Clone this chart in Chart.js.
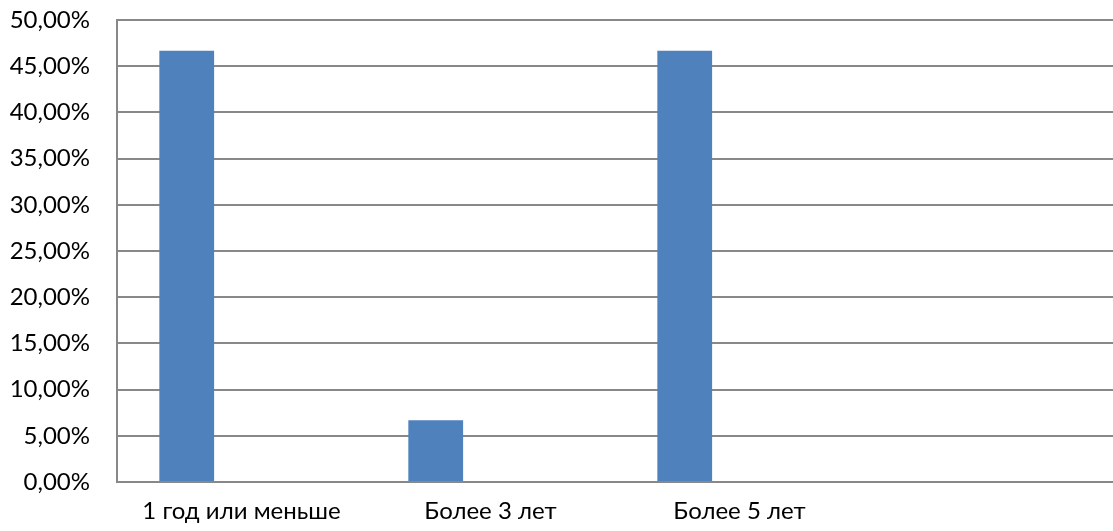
<!DOCTYPE html>
<html>
<head>
<meta charset="utf-8">
<script src="https://cdn.jsdelivr.net/npm/chart.js@4/dist/chart.umd.min.js"></script>
<style>
  html, body { margin: 0; padding: 0; background: #fff; }
  #wrap { width: 1113px; height: 531px; }
</style>
</head>
<body>
<div id="wrap"><canvas id="chart"></canvas></div>
<script>
// categories (4th slot is empty in the original)
const categories = ['1 год или меньше', 'Более 3 лет', 'Более 5 лет', ''];
// main series, percent
const shares = [46.67, 6.67, 46.67, 0];
// the source chart has two more series with no data
const emptySeries = [];
const yTicks = [0, 5, 10, 15, 20, 25, 30, 35, 40, 45, 50];

const gridColor = '#888888';
const barColor = '#4F81BD';
const font = { family: 'Lato', size: 24 };

document.addEventListener('DOMContentLoaded', function() {
    const ctx = document.getElementById('chart').getContext('2d');
    new Chart(ctx, {
        type: 'bar',
        data: {
            labels: categories,
            datasets: [
                { data: shares, backgroundColor: barColor, borderWidth: 0 },
                { data: emptySeries, backgroundColor: barColor },
                { data: emptySeries, backgroundColor: barColor }
            ]
        },
        options: {
            responsive: true,
            maintainAspectRatio: false,
            animation: false,
            layout: { autoPadding: false, padding: { top: 20, right: -4, left: 0, bottom: 0 } },
            plugins: { legend: { display: false }, tooltip: { enabled: false } },
            datasets: { bar: { categoryPercentage: 0.66, barPercentage: 1 } },
            scales: {
                x: {
                    grid: { display: false, drawTicks: false },
                    border: { display: true, color: gridColor, width: 2 },
                    ticks: { color: '#000', font: font, padding: 15, maxRotation: 0, autoSkip: false },
                    afterFit: function(s) { s.height = 49; }
                },
                y: {
                    min: 0,
                    max: 50,
                    afterBuildTicks: function(s) { s.ticks = yTicks.map(v => ({ value: v })); },
                    grid: { color: gridColor, lineWidth: 2, drawTicks: false },
                    border: { display: true, color: gridColor, width: 2 },
                    ticks: {
                        color: '#000',
                        font: font,
                        padding: 27,
                        callback: v => v.toFixed(2).replace('.', ',') + '%'
                    },
                    afterFit: function(s) {
                        s.width = 117;
                        s.paddingTop = 0;
                        s.paddingBottom = 0;
                    }
                }
            }
        }
    });
});
</script>
</body>
</html>
